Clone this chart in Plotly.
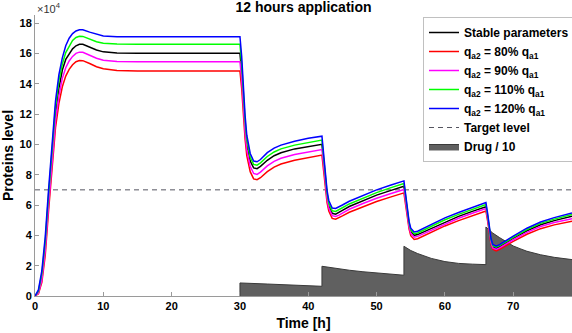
import plotly.graph_objects as go

# ---------------- data (protein level in units of 1e4) ----------------
time_h = [0, 0.5, 1, 1.5, 2, 2.5, 3, 3.5, 4, 4.5, 5, 5.5, 6, 6.5, 7, 8, 9, 10, 12, 15, 20, 25, 30,
          30.25, 30.5, 30.75, 31, 31.5, 32, 32.5, 33, 34, 35, 36, 38, 40, 42,
          42.25, 42.5, 42.75, 43, 43.5, 44, 44.5, 45, 46, 48, 50, 52, 54,
          54.25, 54.5, 54.75, 55, 55.5, 56, 56.5, 57, 58, 60, 62, 64, 66,
          66.25, 66.5, 66.75, 67, 67.5, 68, 68.5, 69, 70, 72, 74, 76, 78.6]

stable = [0, 0.25, 1.25, 3.3, 6.4, 9.5, 12.0, 13.7, 14.9, 15.6, 16.0, 16.3, 16.5, 16.6, 16.6, 16.42, 16.22, 16.1, 16.02, 16.0, 16.0, 16.0, 16.0,
          14.8, 12.9, 11.2, 10.0, 8.9, 8.45, 8.4, 8.55, 8.95, 9.25, 9.45, 9.7, 9.87, 10.0,
          8.9, 7.6, 6.6, 5.95, 5.45, 5.4, 5.5, 5.65, 5.9, 6.3, 6.65, 6.95, 7.24,
          6.4, 5.4, 4.7, 4.25, 4.0, 4.05, 4.15, 4.3, 4.5, 4.9, 5.25, 5.58, 5.88,
          5.2, 4.3, 3.6, 3.25, 3.15, 3.25, 3.4, 3.55, 3.8, 4.3, 4.7, 4.97, 5.26]

q80 = [0, 0.15, 0.9, 2.7, 5.7, 8.7, 11.1, 12.7, 13.8, 14.5, 14.95, 15.25, 15.45, 15.53, 15.52, 15.33, 15.12, 14.98, 14.87, 14.83, 14.83, 14.83, 14.83,
       13.7, 11.9, 10.35, 9.25, 8.2, 7.72, 7.67, 7.8, 8.2, 8.5, 8.7, 8.95, 9.13, 9.29,
       8.25, 7.05, 6.15, 5.6, 5.12, 5.07, 5.15, 5.28, 5.52, 5.9, 6.23, 6.52, 6.8,
       6.0, 5.07, 4.42, 3.98, 3.73, 3.78, 3.88, 4.03, 4.23, 4.62, 4.97, 5.3, 5.61,
       4.95, 4.1, 3.43, 3.08, 2.97, 3.07, 3.21, 3.36, 3.6, 4.07, 4.44, 4.69, 4.93]

q90 = [0, 0.2, 1.05, 3.0, 6.05, 9.1, 11.55, 13.2, 14.35, 15.05, 15.5, 15.8, 16.0, 16.08, 16.07, 15.88, 15.68, 15.55, 15.47, 15.45, 15.45, 15.45, 15.45,
       14.3, 12.45, 10.8, 9.65, 8.55, 8.08, 8.02, 8.17, 8.58, 8.88, 9.08, 9.33, 9.52, 9.66,
       8.6, 7.35, 6.4, 5.8, 5.3, 5.25, 5.33, 5.47, 5.72, 6.1, 6.45, 6.74, 7.02,
       6.2, 5.25, 4.57, 4.13, 3.88, 3.93, 4.03, 4.18, 4.38, 4.78, 5.13, 5.46, 5.77,
       5.1, 4.22, 3.53, 3.17, 3.07, 3.17, 3.31, 3.46, 3.71, 4.2, 4.58, 4.84, 5.1]

q110 = [0, 0.32, 1.45, 3.6, 6.75, 9.9, 12.45, 14.2, 15.3, 16.05, 16.5, 16.85, 17.05, 17.13, 17.12, 16.95, 16.77, 16.67, 16.61, 16.6, 16.6, 16.6, 16.6,
        15.3, 13.3, 11.55, 10.3, 9.15, 8.68, 8.63, 8.78, 9.2, 9.5, 9.7, 9.95, 10.13, 10.28,
        9.1, 7.8, 6.78, 6.12, 5.62, 5.58, 5.68, 5.82, 6.07, 6.47, 6.82, 7.13, 7.42,
        6.55, 5.53, 4.82, 4.36, 4.11, 4.16, 4.27, 4.42, 4.62, 5.03, 5.38, 5.72, 6.03,
        5.32, 4.4, 3.68, 3.32, 3.22, 3.32, 3.47, 3.62, 3.87, 4.38, 4.79, 5.07, 5.37]

q120 = [0, 0.4, 1.65, 3.9, 7.1, 10.3, 12.85, 14.6, 15.7, 16.5, 17.0, 17.3, 17.48, 17.56, 17.55, 17.4, 17.25, 17.15, 17.1, 17.1, 17.1, 17.1, 17.1,
        15.8, 13.7, 11.9, 10.6, 9.4, 8.9, 8.85, 9.0, 9.45, 9.75, 9.95, 10.2, 10.4, 10.54,
        9.35, 8.0, 6.95, 6.3, 5.8, 5.77, 5.86, 6.0, 6.25, 6.65, 7.0, 7.3, 7.59,
        6.7, 5.65, 4.92, 4.47, 4.22, 4.27, 4.38, 4.53, 4.74, 5.15, 5.51, 5.85, 6.16,
        5.45, 4.5, 3.77, 3.4, 3.29, 3.39, 3.54, 3.69, 3.95, 4.47, 4.88, 5.17, 5.48]

drug_t = [30, 30, 34, 38, 42, 42, 44, 46, 48, 50, 52, 54, 54, 55, 56, 57, 58, 60, 62, 64, 66,
          66, 67, 68, 69, 70, 71, 72, 74, 76, 78.6]
drug_v = [0, 0.86, 0.79, 0.72, 0.64, 1.96, 1.82, 1.70, 1.60, 1.52, 1.44, 1.37, 3.28, 3.0, 2.8, 2.62, 2.48, 2.27, 2.15, 2.1, 2.07,
          4.55, 4.15, 3.85, 3.55, 3.3, 3.12, 2.95, 2.72, 2.55, 2.4]

target_level = 7.0
x_range = [0, 78.6]
y_ticks = [0, 2, 4, 6, 8, 10, 12, 14, 16, 18]
x_ticks = [0, 10, 20, 30, 40, 50, 60, 70]

series = [
    ("<b>Stable parameters</b>", stable, "#000000"),
    ("<b>q<sub>a2</sub> = 80% q<sub>a1</sub></b>", q80, "#ff0000"),
    ("<b>q<sub>a2</sub> = 90% q<sub>a1</sub></b>", q90, "#ff00ff"),
    ("<b>q<sub>a2</sub> = 110% q<sub>a1</sub></b>", q110, "#00ff00"),
    ("<b>q<sub>a2</sub> = 120% q<sub>a1</sub></b>", q120, "#0000ff"),
]

FONT = "Liberation Sans, Arial, sans-serif"
fig = go.Figure()

# drug area first so curves sit on top of it
fig.add_trace(go.Scatter(x=drug_t, y=drug_v, mode="lines", fill="tozeroy",
                         fillcolor="#606060", line=dict(color="#3a3a3a", width=1),
                         name="<b>Drug / 10</b>", legendrank=7))

fig.add_trace(go.Scatter(x=x_range, y=[target_level, target_level], mode="lines",
                         line=dict(color="#555560", width=1, dash="5px,4px"),
                         name="<b>Target level</b>", legendrank=6))

for i, (name, vals, col) in enumerate(series):
    fig.add_trace(go.Scatter(x=time_h, y=vals, mode="lines", name=name,
                             line=dict(color=col, width=1.5), legendrank=i + 1))

axis_col = "#9a9a9a"
fig.update_layout(
    width=572, height=333,
    margin=dict(l=35, r=0, t=15, b=37, autoexpand=False),
    paper_bgcolor="white", plot_bgcolor="white",
    font=dict(family=FONT, color="#000000"),
    showlegend=True,
    title=dict(text="<b>12 hours application</b>", x=0.5, xref="paper",
               y=1 - 2.5 / 333, yref="container", yanchor="top", pad=dict(t=0, b=0),
               font=dict(size=14, family=FONT, color="#000")),
    legend=dict(x=(423 - 35) / 537, xanchor="left", y=(296 - 17) / 281, yanchor="top",
                bgcolor="white", bordercolor="#c0c0c0", borderwidth=1,
                font=dict(size=12, family=FONT, color="#000"),
                itemwidth=30, tracegroupgap=0, traceorder="normal"),
    xaxis=dict(range=x_range, tickvals=x_ticks, ticktext=[f"<b>{v}</b>" for v in x_ticks],
               showline=True, linecolor=axis_col, linewidth=1, ticks="inside",
               ticklen=4, tickcolor=axis_col, showgrid=False, zeroline=False,
               automargin=False,
               tickfont=dict(size=11, family=FONT, color="#000"),
               title=dict(text="<b>Time [h]</b>", font=dict(size=14, family=FONT), standoff=6)),
    yaxis=dict(range=[0, 18.53], tickvals=y_ticks, ticktext=[f"<b>{v}</b>" for v in y_ticks],
               showline=True, linecolor=axis_col, linewidth=1, ticks="inside",
               ticklen=4, tickcolor=axis_col, showgrid=False, zeroline=False,
               automargin=False,
               tickfont=dict(size=11, family=FONT, color="#000"),
               title=dict(text="<b>Proteins level</b>", font=dict(size=14, family=FONT), standoff=5)),
)

fig.add_annotation(text="\u00d710<sup>4</sup>", xref="paper", yref="paper", x=0, y=1,
                   xanchor="left", yanchor="bottom", showarrow=False, xshift=0, yshift=-2,
                   font=dict(size=11, family=FONT, color="#333"))

fig.write_html("out.html", config={"displayModeBar": False},
               post_script="document.body.style.margin='0';document.body.style.padding='0';")
